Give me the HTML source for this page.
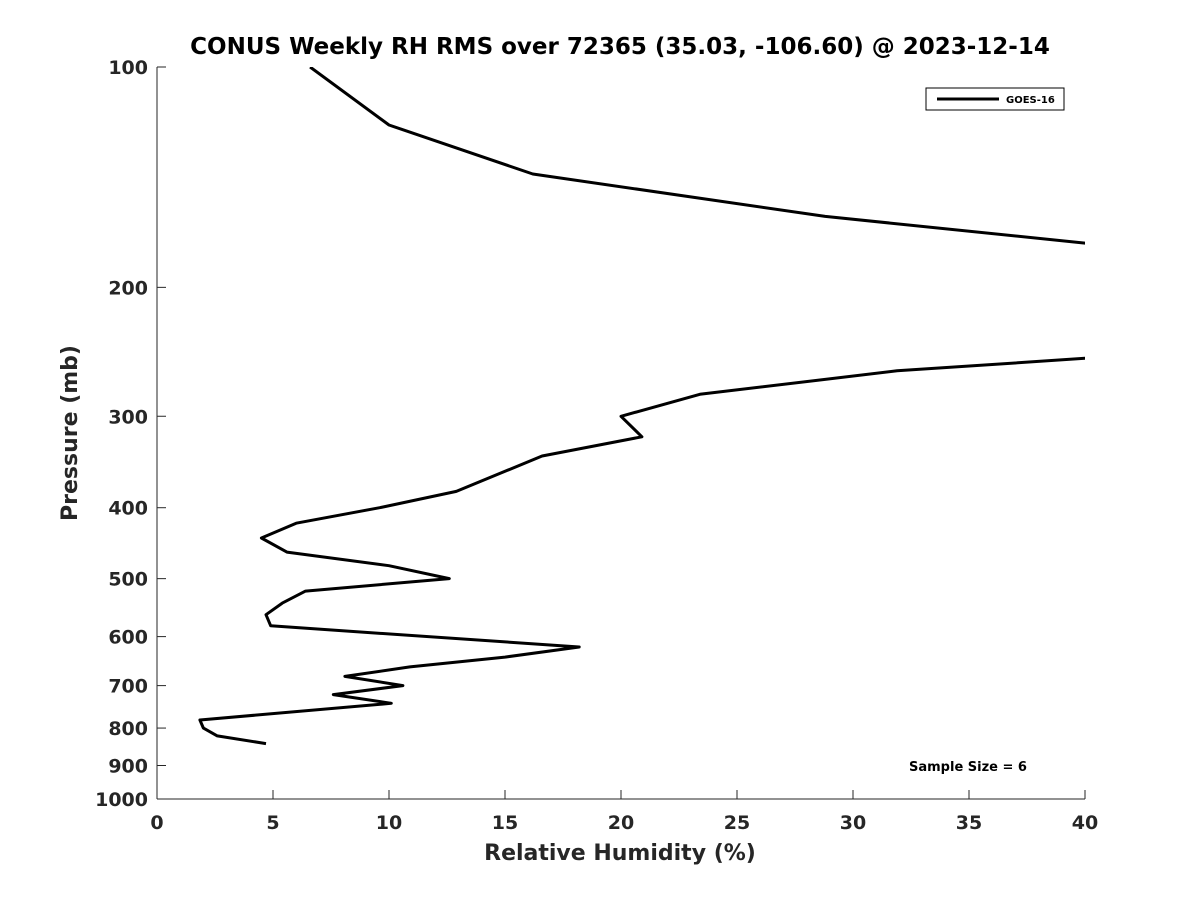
<!DOCTYPE html>
<html><head><meta charset="utf-8"><style>
body{margin:0;background:#fff;}
svg text{font-family:"DejaVu Sans","Liberation Sans",sans-serif;font-weight:bold;fill:#262626;}
</style></head><body>
<svg id="chart" width="1200" height="900" xmlns="http://www.w3.org/2000/svg">
<rect width="1200" height="900" fill="#fff"/>
<defs><clipPath id="plotclip"><rect x="157" y="67" width="928" height="732"/></clipPath></defs>
<text x="620" y="54" text-anchor="middle" font-size="23" style="fill:#000">CONUS Weekly RH RMS over 72365 (35.03, -106.60) @ 2023-12-14</text>
<g id="axes"></g>
<path id="series" fill="none" stroke="#000" stroke-width="3" stroke-linejoin="round" clip-path="url(#plotclip)"/>
<g>
<rect x="926" y="88" width="138" height="22" fill="#fff" stroke="#000" stroke-width="1"/>
<line x1="937" y1="99" x2="999" y2="99" stroke="#000" stroke-width="3"/>
<text x="1006" y="103" font-size="10" style="fill:#000">GOES-16</text>
</g>
<text x="968" y="771" text-anchor="middle" font-size="13" style="fill:#000">Sample Size = 6</text>
<text x="620" y="860" text-anchor="middle" font-size="22">Relative Humidity (%)</text>
<text transform="translate(77,433) rotate(-90)" text-anchor="middle" font-size="22">Pressure (mb)</text>
</svg>
<script>
const rhValues=[6.6,10.0,16.2,28.8,40,55,55,40,31.9,23.4,20.0,20.9,16.6,12.9,9.6,6.0,4.5,5.6,10.0,12.6,6.4,5.4,4.7,4.9,18.2,15.0,10.9,8.1,10.6,7.6,10.1,1.85,2.0,2.6,4.7];
const pressureLevels=[100,120,140,160,174,200,235,250,260,280,300,320,340,380,400,420,440,460,480,500,520,540,560,580,620,640,660,680,700,720,740,780,800,820,840];
const xTicks=[0,5,10,15,20,25,30,35,40];
const yTicks=[100,200,300,400,500,600,700,800,900,1000];
const X0=157,X1=1085,Y0=67,Y1=799;
const xs=v=>X0+(v-0)/(40-0)*(X1-X0);
const ys=p=>Y0+Math.log10(p/100)*(Y1-Y0);
const NS="http://www.w3.org/2000/svg";
const ax=document.getElementById('axes');
function mk(t,a){const e=document.createElementNS(NS,t);for(const k in a)e.setAttribute(k,a[k]);ax.appendChild(e);return e;}
const xl=mk('line',{x1:X0,y1:Y1,x2:X1,y2:Y1,stroke:'#262626','stroke-width':1});


const yl=mk('line',{x1:X0,y1:Y0,x2:X0,y2:Y1,stroke:'#262626','stroke-width':1});


xTicks.forEach(v=>{
 mk('line',{x1:xs(v),y1:Y1,x2:xs(v),y2:Y1-9,stroke:'#262626'});
 const t=mk('text',{x:xs(v),y:Y1+30,'text-anchor':'middle','font-size':19});
 t.textContent=v;
 
 
});
yTicks.forEach(v=>{
 mk('line',{x1:X0,y1:ys(v),x2:X0+9,y2:ys(v),stroke:'#262626'});
 const t=mk('text',{x:X0-9,y:ys(v)+7,'text-anchor':'end','font-size':19});
 t.textContent=v;
 
 
});
document.getElementById('series').setAttribute('d',rhValues.map((v,i)=>(i?'L':'M')+xs(v).toFixed(1)+' '+ys(pressureLevels[i]).toFixed(1)).join(' '));
</script>
</body></html>
